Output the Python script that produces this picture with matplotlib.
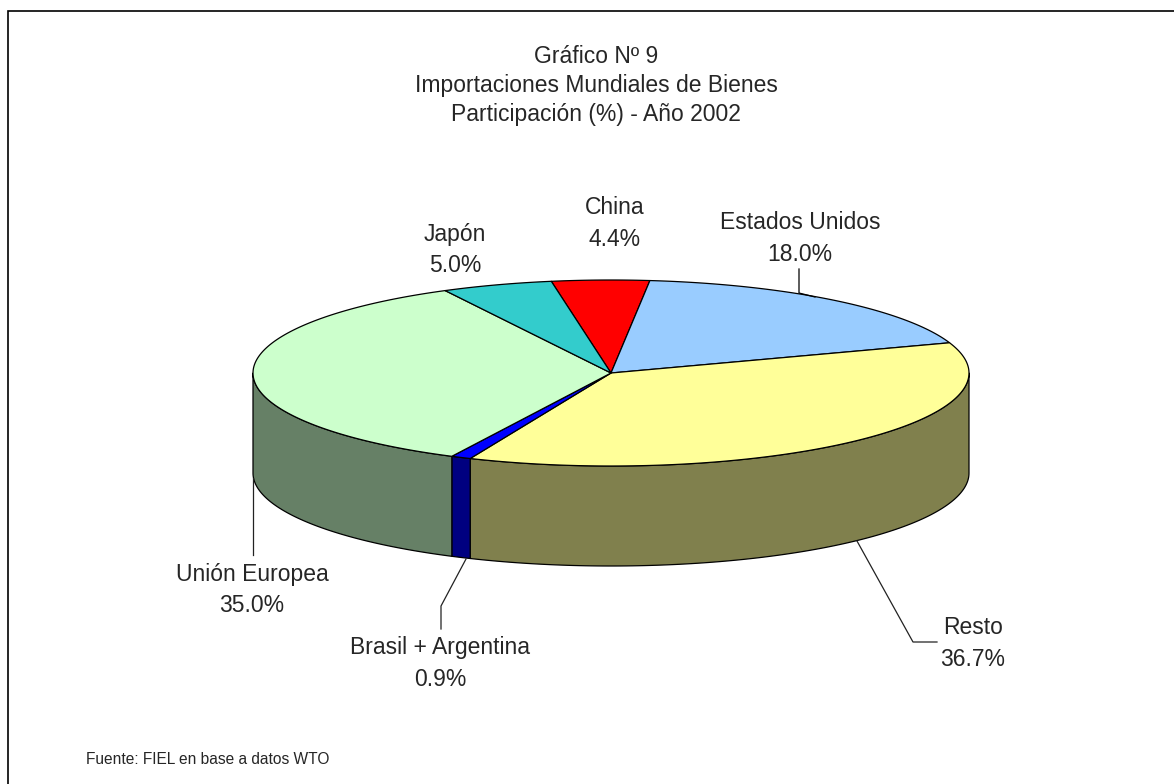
import numpy as np
import matplotlib
matplotlib.use('Agg')
import matplotlib.pyplot as plt
from matplotlib.patches import Polygon

plt.rcParams['font.family'] = ['Liberation Sans', 'DejaVu Sans']

categories = ['China', 'Estados Unidos', 'Resto', 'Brasil + Argentina', 'Unión Europea', 'Japón']
values = [4.4, 18.0, 36.7, 0.9, 35.0, 5.0]
top_colors = ['#ff0000', '#99ccff', '#ffff99', '#0000ff', '#ccffcc', '#33cccc']
side_colors = ['#800000', '#4d6680', '#80804d', '#000080', '#668066', '#1a6666']
title_lines = ['Gráfico Nº 9', 'Importaciones Mundiales de Bienes', 'Participación (%) - Año 2002']

cx, cy, rx, ry, depth = 611, 373, 358, 93, 100
start = -9.6
text_color = '#262626'


def px(a):
    return cx + rx * np.sin(np.radians(a))


def py(a):
    return cy - ry * np.cos(np.radians(a))


fig = plt.figure(figsize=(11.74, 7.84), dpi=100)
ax = fig.add_axes([0, 0, 1, 1])
ax.set_xlim(0, 1174)
ax.set_ylim(784, 0)
ax.axis('off')

# frame only shows on the top and left
ax.plot([8, 8, 1174], [784, 10.5, 10.5], color='black', lw=1.2, solid_joinstyle='miter')

total = sum(values)
edges = start + np.cumsum([0] + values) / total * 360

# side walls first, only the front half shows
for i in range(len(values)):
    a0, a1 = max(edges[i], 90), min(edges[i + 1], 270)
    if a1 <= a0:
        continue
    t = np.linspace(a0, a1, 120)
    xs = px(t)
    ys = py(t)
    pts = np.r_[np.c_[xs, ys], np.c_[xs[::-1], ys[::-1] + depth]]
    ax.add_patch(Polygon(pts, fc=side_colors[i], ec='black', lw=0.9, joinstyle='round'))

# top of the pie
for i in range(len(values)):
    t = np.linspace(edges[i], edges[i + 1], 120)
    pts = np.r_[[[cx, cy]], np.c_[px(t), py(t)]]
    ax.add_patch(Polygon(pts, fc=top_colors[i], ec='black', lw=0.9, joinstyle='round'))

# leader lines
ax.plot([799, 799, 815], [269, 293, 297], color='black', lw=0.9)
ax.plot([857, 913, 937], [541, 642, 642], color='#222222', lw=0.9)
ax.plot([466, 441, 441], [559, 606, 629], color='#222222', lw=0.9)
ax.plot([253, 253], [478, 555], color='#222222', lw=0.9)

for y, line in zip([56, 85, 114], title_lines):
    ax.text(596, y, line, ha='center', va='center', fontsize=16.5, color=text_color)

label_pos = [(615, 223.5), (800, 238.5), (973, 643.5), (440, 663.5), (252, 590), (455, 250)]
for name, v, (x, y) in zip(categories, values, label_pos):
    ax.text(x, y, f'{name}\n{v:.1f}%', ha='center', va='center', fontsize=16.5,
            linespacing=1.45, color=text_color)

ax.text(86, 759, 'Fuente: FIEL en base a datos WTO', ha='left', va='center',
        fontsize=11.2, color=text_color)

fig.savefig('out.png', dpi=100)
